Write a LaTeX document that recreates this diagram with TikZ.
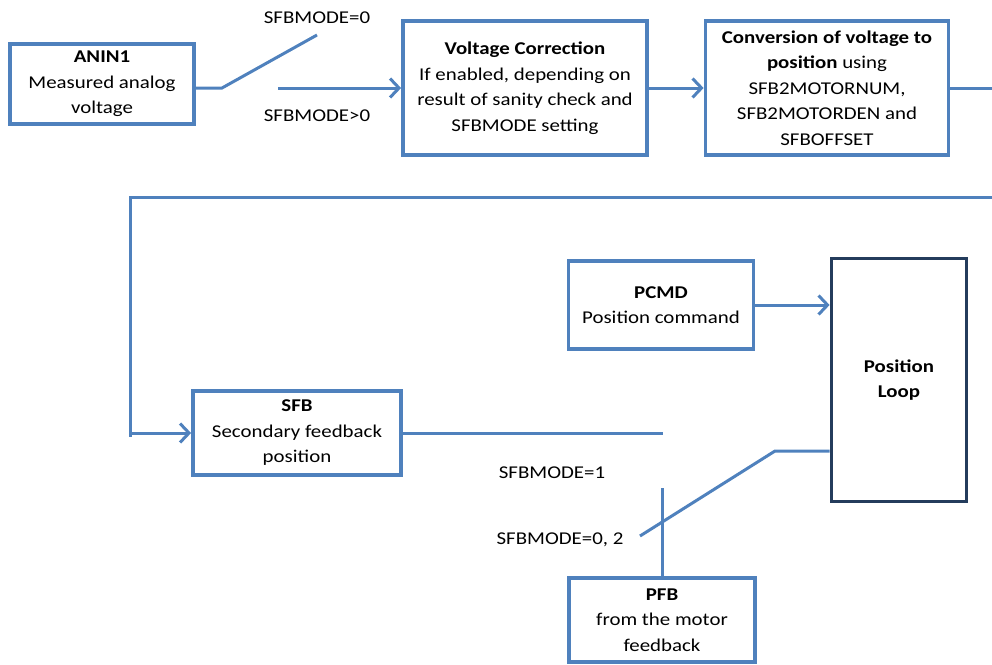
\documentclass[tikz,border=0pt]{standalone}
\usepackage{fontspec}
\setmainfont{Carlito}[FakeStretch=1.16]
\definecolor{lineblue}{RGB}{79, 129, 189}
\definecolor{loopnavy}{RGB}{36, 60, 92}
\usetikzlibrary{arrows.meta, positioning, calc}

\begin{document}
\begin{tikzpicture}[
  x=1pt, y=-1pt,
  box/.style={draw=#1, line width=3.8pt, align=center, inner sep=2pt,
    font=\fontsize{18}{25.5}\selectfont},
  box/.default=lineblue,
  wire/.style={draw=lineblue, line width=3pt},
  arr/.style={wire, -{Straight Barb[length=9pt, width=19pt, line width=3pt]}},
  lbl/.style={font=\fontsize{18}{22}\selectfont, inner sep=0pt},
]
  \useasboundingbox (0,0) rectangle (992,664);
  % blocks
  \node[box, minimum width=184pt, minimum height=80pt] (anin) at (102, 84) {\textbf{ANIN1}\\Measured analog\\voltage};
  \node[box, minimum width=244pt, minimum height=134pt] (volt) at (525, 88) {\textbf{Voltage Correction}\\If enabled, depending on\\result of sanity check and\\SFBMODE setting};
  \node[box, minimum width=243pt, minimum height=134pt] (conv) at (827, 88) {\textbf{Conversion of voltage to}\\\textbf{position} using\\SFB2MOTORNUM,\\SFB2MOTORDEN and\\SFBOFFSET};
  \node[box, minimum width=185pt, minimum height=88pt] (pcmd) at (661, 305) {\textbf{PCMD}\\Position command};
  \node[box=loopnavy, minimum width=135pt, minimum height=243pt] (ploop) at (899, 380) {\textbf{Position}\\\textbf{Loop}};
  \node[box, minimum width=208pt, minimum height=84pt] (sfb) at (297, 433) {\textbf{SFB}\\Secondary feedback\\position};
  \node[box, minimum width=186pt, minimum height=84pt] (pfb) at (662, 620) {\textbf{PFB}\\from the motor\\feedback};
  % switch points
  \coordinate (swA) at (222, 88);
  \coordinate (swAtip) at (317, 35);
  \coordinate (swAin) at (278, 88);
  \coordinate (swB) at (775, 451);
  \coordinate (swBtip) at (640, 536);
  \coordinate (swBsfb) at (663, 433);
  \coordinate (swBpfb) at (662, 488);
  \coordinate (fbtop) at (130, 197);
  % labels
  \node[lbl] (modeA0) at (317, 18) {SFBMODE=0};
  \node[lbl] (modeA1) at (317, 116) {SFBMODE>0};
  \node[lbl] (modeB1) at (552, 473) {SFBMODE=1};
  \node[lbl] (modeB0) at (560, 540) {SFBMODE=0, 2};
  % connectors
  \draw[wire] (anin.east |- swA) -- (swA) -- (swAtip);
  \draw[arr] (swAin) -- (volt.west);
  \draw[arr] (volt) -- (conv);
  \draw[wire] (conv.east) -- (998, 88) -- (998, 197) -- (fbtop) -- ++(0, 240);
  \draw[arr] (fbtop |- sfb.west) -- (sfb.west);
  \draw[wire] (sfb.east) -- (swBsfb);
  \draw[arr] (pcmd.east) -- (pcmd.east -| ploop.west);
  \draw[wire] (ploop.west |- swB) -- (swB) -- (swBtip);
  \draw[wire] (swBpfb) -- (pfb.north);
\end{tikzpicture}
\end{document}
